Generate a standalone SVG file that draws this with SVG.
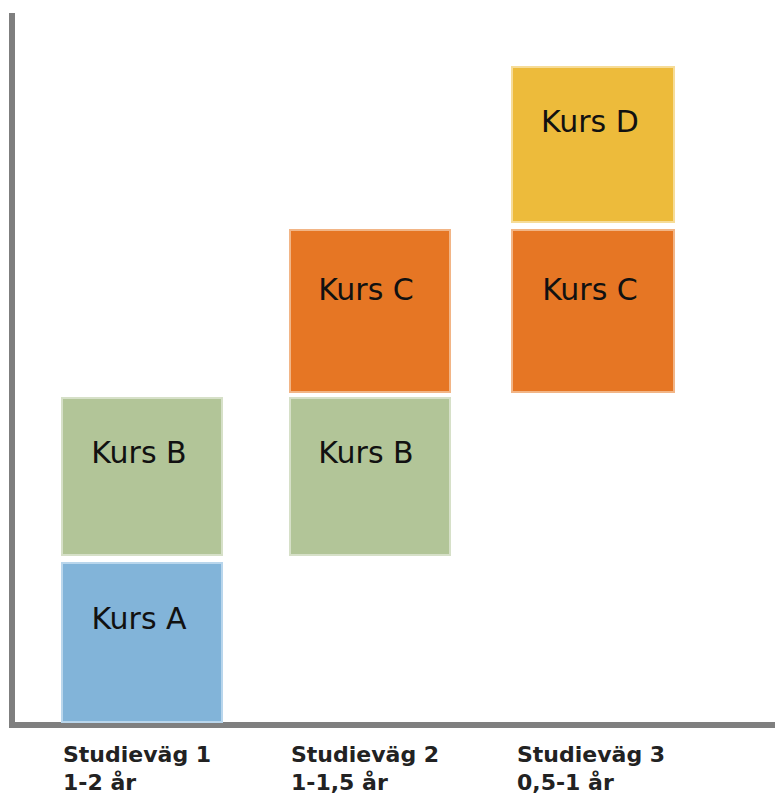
<svg xmlns="http://www.w3.org/2000/svg" width="775" height="794" viewBox="0 0 775 794">
<style>
.box{stroke-width:2}
.a{fill:#82b4d9;stroke:#b9d6ec}
.b{fill:#b2c598;stroke:#d6e0c8}
.c{fill:#e67624;stroke:#f2b586}
.d{fill:#edbb3b;stroke:#f6dc98}
.lbl{font-family:"DejaVu Sans","Liberation Sans",sans-serif;font-size:30px;fill:#111;text-anchor:middle}
.ax{font-family:"DejaVu Sans","Liberation Sans",sans-serif;font-size:22px;font-weight:bold;fill:#222}
</style>
<rect width="775" height="794" fill="#fff"/>
<g id="axes">
<rect x="9" y="13" width="6" height="715" fill="#7f7f7f"/>
<rect x="9" y="722" width="766" height="6" fill="#7f7f7f"/>
</g>
<g id="kursA1"><rect class="box a" x="62" y="563" width="160" height="159"/><text class="lbl" x="139" y="629">Kurs A</text></g>
<g id="kursB1"><rect class="box b" x="62" y="398" width="160" height="157"/><text class="lbl" x="139" y="463">Kurs B</text></g>
<g id="kursB2"><rect class="box b" x="290" y="398" width="160" height="157"/><text class="lbl" x="366" y="463">Kurs B</text></g>
<g id="kursC2"><rect class="box c" x="290" y="230" width="160" height="162"/><text class="lbl" x="366" y="300">Kurs C</text></g>
<g id="kursC3"><rect class="box c" x="512" y="230" width="162" height="162"/><text class="lbl" x="590" y="300">Kurs C</text></g>
<g id="kursD3"><rect class="box d" x="512" y="67" width="162" height="155"/><text class="lbl" x="590" y="132">Kurs D</text></g>
<g id="labels">
<text class="ax" x="63" y="762">Studieväg 1</text>
<text class="ax" x="63" y="790">1-2 år</text>
<text class="ax" x="291" y="762">Studieväg 2</text>
<text class="ax" x="291" y="790">1-1,5 år</text>
<text class="ax" x="517" y="762">Studieväg 3</text>
<text class="ax" x="517" y="790">0,5-1 år</text>
</g>
</svg>
